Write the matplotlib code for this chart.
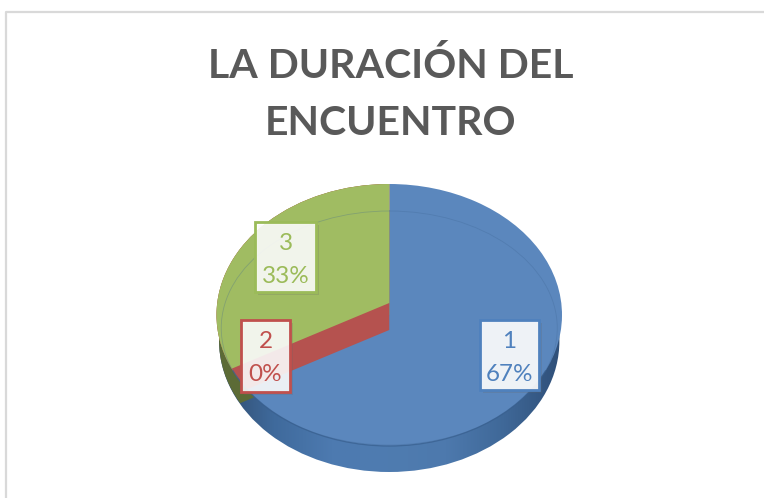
import matplotlib
matplotlib.use("Agg")
import matplotlib.pyplot as plt
import numpy as np
from matplotlib.patches import Arc, Ellipse, Rectangle
from matplotlib.colors import LinearSegmentedColormap
from matplotlib.transforms import Affine2D

categories = ["1", "2", "3"]
values = [67, 0, 33]
title_lines = ["LA DURACIÓN DEL", "ENCUENTRO"]

W, H = 764, 498
BLUE, RED, GREEN = "#5b87bd", "#b5524f", "#a0bc62"
TXT = {"1": "#4f81bd", "2": "#c0504d", "3": "#9bbb59"}
FONT = "Lato"

fig = plt.figure(figsize=(W / 100, H / 100), dpi=100, facecolor="white")
px = Affine2D().scale(1, -1).translate(0, H)

# outer frame
fig.add_artist(plt.Line2D([5.5, 5.5, W], [H, 11.5, 11.5], transform=px, color="#d9d9d9", lw=1.6))

# title
fig.text(391, 78, title_lines[0], transform=px, ha="center", va="baseline", fontsize=29.5,
         fontweight="bold", family=FONT, color="#595959")
fig.text(391, 135, title_lines[1], transform=px, ha="center", va="baseline", fontsize=29.5,
         fontweight="bold", family=FONT, color="#595959")

# full-figure axes: the unit circle maps to the top face of the tilted pie
L, R, T, B = 216.5, 562, 184, 446
cx_px, cy_px = (L + R) / 2, (T + B) / 2
rx_px, ry_px = (R - L) / 2, (B - T) / 2
ax = fig.add_axes([0, 0, 1, 1])
XLIM = (-cx_px / rx_px, (W - cx_px) / rx_px)
YLIM = ((cy_px - H) / ry_px, cy_px / ry_px)

def reset():
    ax.set_aspect("auto")
    ax.set_xlim(*XLIM)
    ax.set_ylim(*YLIM)
    ax.set_axis_off()

def pie(cols, shift_px=0, radius=1.0, clip=None, z=1):
    wedges, _ = ax.pie(values, colors=cols, startangle=90, counterclock=False, radius=radius,
                       center=(0, -shift_px / ry_px), wedgeprops=dict(linewidth=0))
    for w in wedges:
        w.set_zorder(z)
        if clip is not None:
            w.set_clip_on(True)
            w.set_clip_path(clip)
    reset()
    return wedges

# side wall with shading
wall_shift = 26
wall_clip = Ellipse((0, -wall_shift / ry_px), 2 * 0.985, 2, transform=ax.transData)
cmap = LinearSegmentedColormap.from_list(
    "wall", ["#2f4a6b", "#3f6a9c", "#4d7ab0", "#4f7cb0", "#4d79ad", "#3f6898", "#2f4f78"])
im = ax.imshow(np.linspace(0, 1, 256)[None, :], extent=(-1, 1, -1.3, 1), cmap=cmap,
               aspect="auto", zorder=0)
im.set_clip_path(wall_clip)
reset()

# dark sliver of the green wall, lower left
pie(["none", "none", "#5c6b36"], shift_px=wall_shift, radius=0.985, z=0.5)

# top face
top_clip = Ellipse((0, 0), 2, 2, transform=ax.transData)
pie([BLUE, RED, GREEN], z=1)
pie(["none", "none", RED], shift_px=15, radius=1.3, clip=top_clip, z=2)
pie(["none", "none", GREEN], shift_px=-12, radius=1.3, clip=top_clip, z=3)

# rings on the top face
ax.add_patch(Ellipse((0, -13 / ry_px), 2 * 168 / rx_px, 2 * 117 / ry_px, fill=False,
                     ec="#3e6593", lw=0.6, alpha=0.3, zorder=4))
ax.add_patch(Arc((0, 0), 2, 2, theta1=205, theta2=335, ec="#365d8c", lw=0.9, alpha=0.7, zorder=4))
reset()

overlay = fig.add_axes([0, 0, 1, 1], facecolor="none")
overlay.set_axis_off()
overlay.set_xlim(0, W)
overlay.set_ylim(H, 0)

def label(cat, pct, x0, y0, x1, y1, alpha):
    col = TXT[cat]
    overlay.add_patch(Rectangle((x0 + 3, y0 + 3), x1 - x0, y1 - y0, fc="#666666", ec="none", alpha=0.22))
    overlay.add_patch(Rectangle((x0, y0), x1 - x0, y1 - y0, fc="white", ec="none", alpha=alpha))
    overlay.add_patch(Rectangle((x0, y0), x1 - x0, y1 - y0, fc="none", ec=col, lw=2.0))
    cx = (x0 + x1) / 2
    overlay.text(cx, y0 + 28, cat, ha="center", va="baseline", color=col, fontsize=17.5, family=FONT)
    overlay.text(cx, y0 + 61, f"{pct}%", ha="center", va="baseline", color=col, fontsize=17.5, family=FONT)

label(categories[0], values[0], 480, 320, 539, 390, 0.9)
label(categories[1], values[1], 241, 320, 290, 392, 0.88)
label(categories[2], values[2], 255, 222, 316, 292, 0.88)

fig.savefig("out.png", dpi=100)
